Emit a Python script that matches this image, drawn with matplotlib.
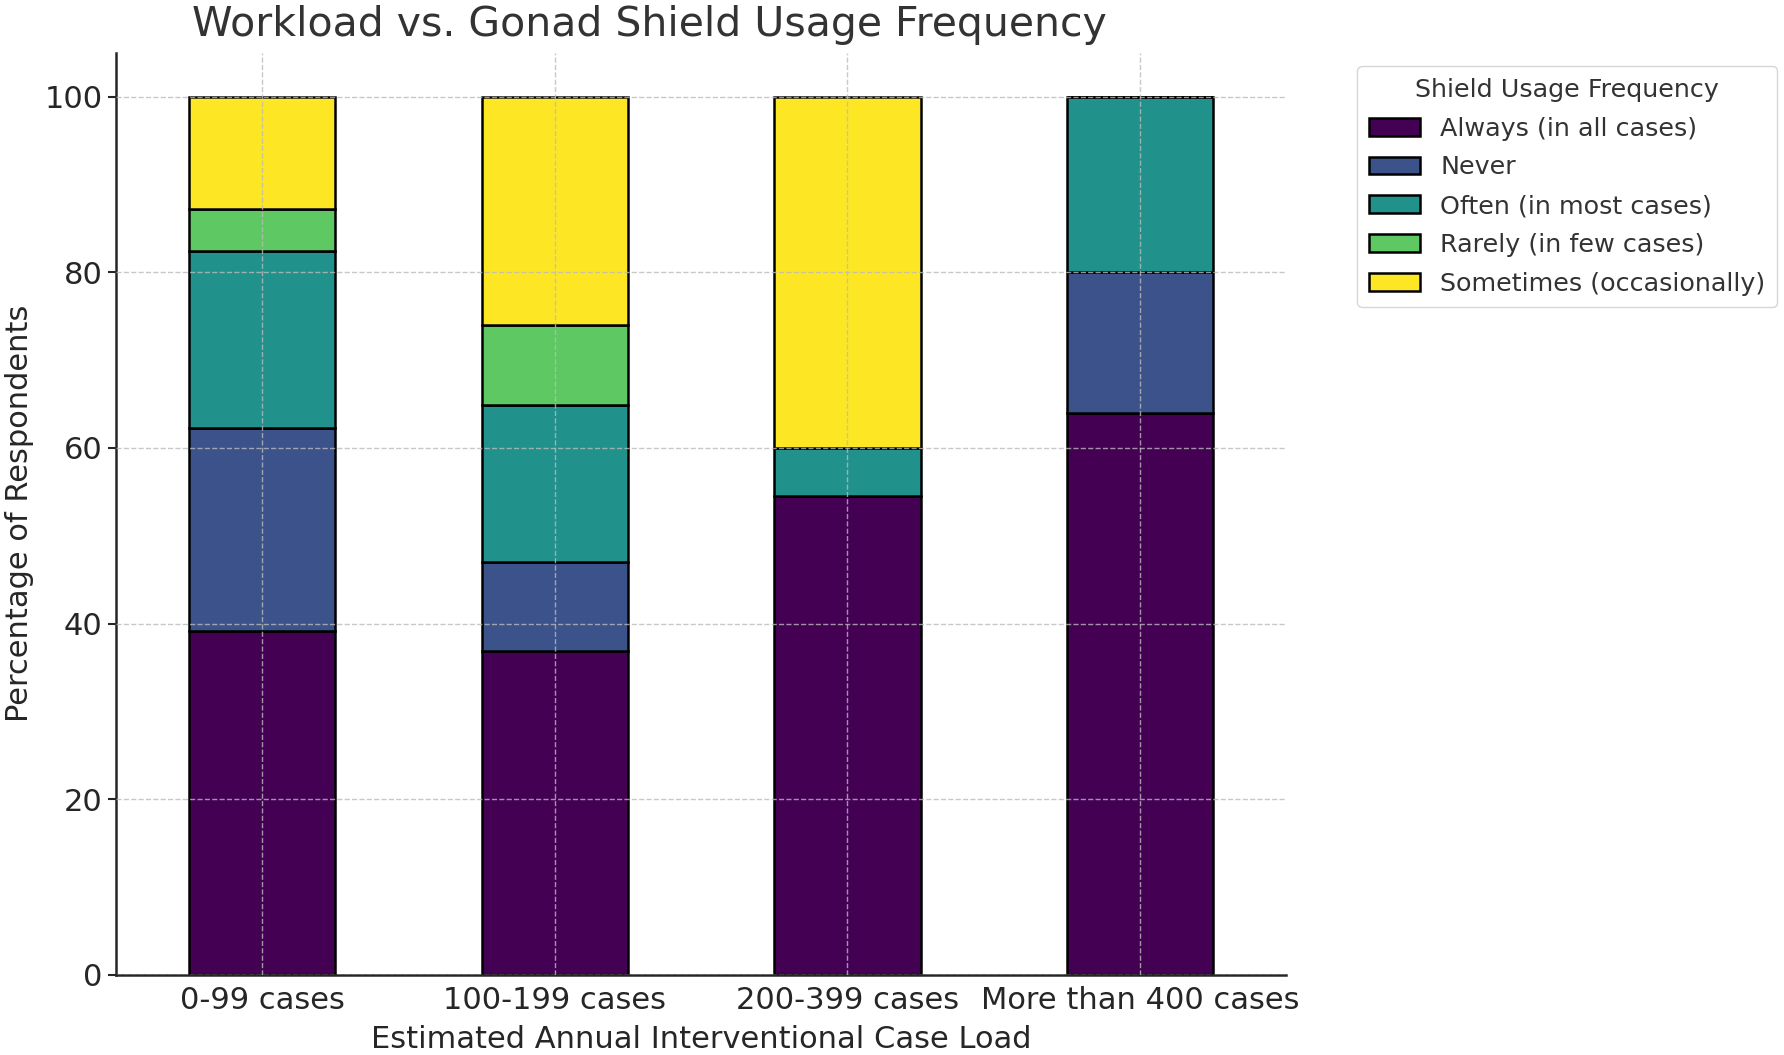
import matplotlib
matplotlib.use("Agg")
import matplotlib.pyplot as plt
import numpy as np

categories = ["0-99 cases", "100-199 cases", "200-399 cases", "More than 400 cases"]
series_names = ["Always (in all cases)", "Never", "Often (in most cases)",
                "Rarely (in few cases)", "Sometimes (occasionally)"]
always = [39.1, 36.9, 54.5, 64.0]
never = [23.2, 10.1, 0.0, 16.0]
often = [20.1, 17.9, 5.5, 20.0]
rarely = [4.8, 9.1, 0.0, 0.0]
sometimes = [12.8, 26.0, 40.0, 0.0]

colors = ["#440154", "#3b528b", "#21918c", "#5ec962", "#fde725"]

plt.rcParams['font.family'] = ['DejaVu Sans']
fig = plt.figure(figsize=(17.84, 10.55), dpi=100)
ax = fig.add_axes([0.065, 0.076, 0.656, 0.874])

x = np.arange(len(categories))
bottom = np.zeros(len(categories))
for name, vals, c in zip(series_names, [always, never, often, rarely, sometimes], colors):
    vals = np.array(vals)
    ax.bar(x, vals, 0.5, bottom=bottom, color=c, edgecolor="black", linewidth=1.8, label=name)
    bottom += vals

ax.set_xlim(-0.5, 3.5)
ax.set_ylim(0, 105)
ax.set_xticks(x)
ax.set_xticklabels(categories)
ax.set_yticks([0, 20, 40, 60, 80, 100])
ax.tick_params(axis='both', labelsize=22, colors="#262626")
ax.tick_params(axis='x', length=0, pad=8)
ax.tick_params(axis='y', length=6, width=1.5)
for s in ["top", "right"]:
    ax.spines[s].set_visible(False)
for s in ["left", "bottom"]:
    ax.spines[s].set_linewidth(1.8)
    ax.spines[s].set_color("#262626")
ax.grid(True, linestyle="--", color="#bbbbbb", linewidth=1.0, alpha=0.8)
ax.set_axisbelow(False)

ax.set_xlabel("Estimated Annual Interventional Case Load", fontsize=22, color="#262626", labelpad=7)
ax.set_ylabel("Percentage of Respondents", fontsize=22, color="#262626", labelpad=8)
fig.text(0.364, 0.976, "Workload vs. Gonad Shield Usage Frequency", fontsize=29.5,
         color="#333333", ha="center", va="center")

leg = ax.legend(title="Shield Usage Frequency", loc="upper left", bbox_to_anchor=(1.05, 0.999),
                fontsize=18.3, title_fontsize=18.3, frameon=True, handlelength=2.0,
                labelspacing=0.58, borderpad=0.45)
for t in leg.get_texts():
    t.set_color("#333333")
leg.get_title().set_color("#333333")
leg.get_frame().set_edgecolor("#cccccc")

fig.savefig("out.png", dpi=100)
